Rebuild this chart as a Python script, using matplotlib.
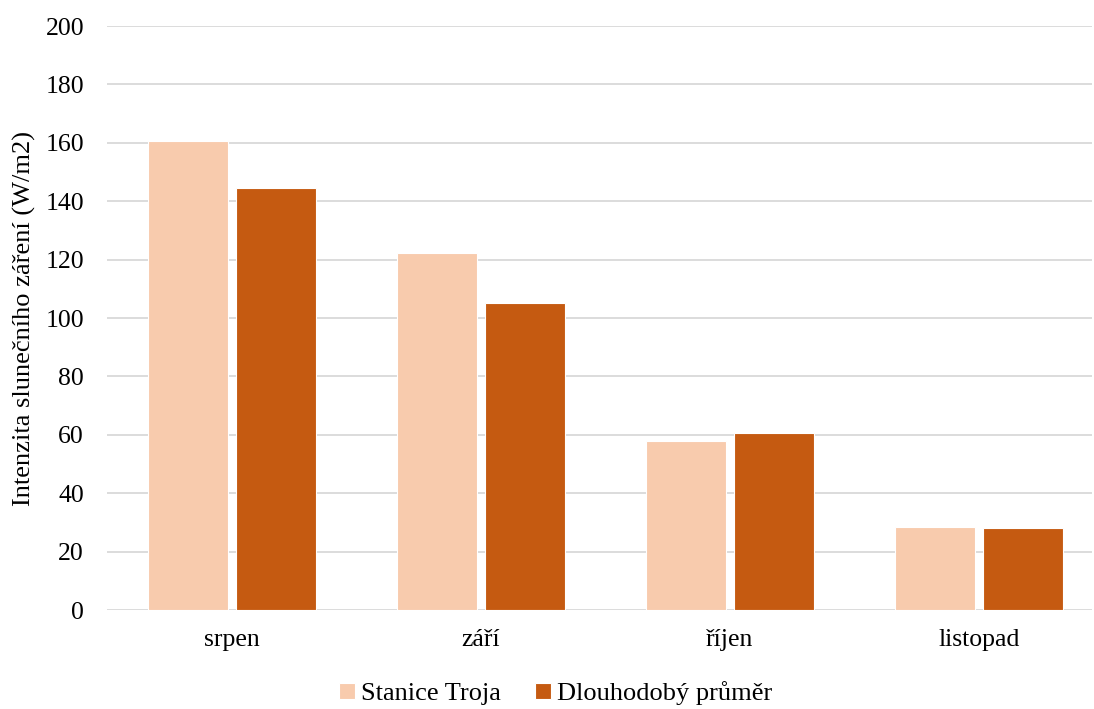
import matplotlib
matplotlib.use("Agg")
import matplotlib.pyplot as plt
import numpy as np

months = ["srpen", "září", "říjen", "listopad"]
troja = [160.6, 122.3, 57.9, 28.4]
dlouhodoby = [144.5, 105.1, 60.6, 28.1]
series_names = ["Stanice Troja", "Dlouhodobý průměr"]
yticks = list(range(0, 201, 20))

plt.rcParams["font.family"] = ["Liberation Serif", "DejaVu Serif"]

fig = plt.figure(figsize=(10.94, 7.09), dpi=100)
ax = fig.add_axes([0.0978, 0.1396, 0.9002, 0.8237])

x = np.arange(len(months))
w = 0.321
off = 0.177
ax.bar(x - off, troja, w, color="#F8CBAD", edgecolor="white", linewidth=0.8,
       label=series_names[0], zorder=3)
ax.bar(x + off, dlouhodoby, w, color="#C55A11", edgecolor="white", linewidth=0.8,
       label=series_names[1], zorder=3)

ax.set_xlim(-0.502, 3.454)
ax.set_ylim(0, 200)
ax.set_yticks(yticks)
ax.set_xticks(x)
ax.set_xticklabels(months)
ax.tick_params(axis="both", length=0, labelsize=18.5, colors="black")
ax.tick_params(axis="y", pad=16.5)
ax.tick_params(axis="x", pad=14)
ax.grid(axis="y", color="#D9D9D9", linewidth=1.3, zorder=0)
for s in ax.spines.values():
    s.set_visible(False)

ax.set_ylabel("Intenzita slunečního záření (W/m2)", fontsize=19, labelpad=7)

fig.legend(loc="center", bbox_to_anchor=(0.508, 0.022), ncol=2, frameon=False,
           fontsize=19, handlelength=0.6, handleheight=0.6, handletextpad=0.22,
           columnspacing=1.3)

fig.savefig("out.png", dpi=100)
